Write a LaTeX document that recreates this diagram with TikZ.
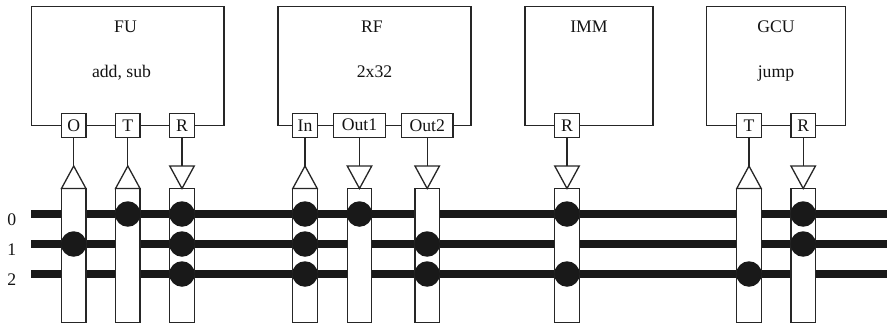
\documentclass[tikz,border=0pt]{standalone}
\usepackage{fontspec}
\setmainfont{Liberation Serif}
\newcommand{\busY}[1]{\ifcase#1 214\or 244\or 274\fi}
% #1 name, #2 x, #3 width, #4 label, #5 up/down, #6 list of bus indices
\newcommand{\portcol}[6]{%
  \node[portbox,minimum width=#3pt] (p#1) at (#2,125.5) {#4};
  \node[colbox] (c#1) at (#2,255.5) {};
  \coordinate (ttop#1) at (#2,166);
  \ifx#5u
    \draw[tri] (ttop#1) -- (#2+12.25,188.5) -- (#2-12.25,188.5) -- cycle;
  \else
    \draw[tri] (#2-12.25,166) -- (#2+12.25,166) -- (#2,188.5) -- cycle;
  \fi
  \draw[wire] (p#1.south) -- (ttop#1);
  \foreach \b in {#6} {
    \node[dot] (d#1\b) at (#2,{\busY{\b}}) {};
  }
}
\tikzset{
  x=1pt,y=-1pt,
  every node/.style={font=\fontsize{17.7}{20}\selectfont,text=black!92},
  block/.style={draw=black!85,line width=1.3pt,fill=white,inner sep=0pt,minimum height=119pt},
  portbox/.style={draw=black!85,line width=1.3pt,fill=white,inner sep=0pt,minimum height=24pt,text height=12pt,text depth=0pt},
  colbox/.style={draw=black!85,line width=1.3pt,fill=white,inner sep=0pt,minimum width=24.5pt,minimum height=134pt},
  tri/.style={draw=black!85,line width=1.3pt,fill=white,line join=miter},
  wire/.style={draw=black!85,line width=1.3pt},
  busline/.style={draw=black!90,line width=7.5pt},
  dot/.style={circle,fill=black!90,inner sep=0pt,minimum size=25.5pt},
  lbl/.style={anchor=base,inner sep=0pt},
}
\begin{document}
\begin{tikzpicture}
\useasboundingbox (0,0) rectangle (887,327);
% blocks
\node[block,minimum width=192.5pt] (fu) at (127.75,66) {};
\node[block,minimum width=193pt] (rf) at (374.5,66) {};
\node[block,minimum width=128pt] (imm) at (589,66) {};
\node[block,minimum width=138.5pt] (gcu) at (776,66) {};
\node[lbl] (tfu) at (125.5,32) {FU};
\node[lbl] (sfu) at (121.5,77) {add, sub};
\node[lbl] (trf) at (372,32) {RF};
\node[lbl] (srf) at (374.5,77) {2x32};
\node[lbl] (timm) at (589,32) {IMM};
\node[lbl] (tgcu) at (776,32) {GCU};
\node[lbl] (sgcu) at (776,77) {jump};
% buses
\coordinate (b0l) at (31,214); \coordinate (b0r) at (887,214);
\coordinate (b1l) at (31,244); \coordinate (b1r) at (887,244);
\coordinate (b2l) at (31,274); \coordinate (b2r) at (887,274);
\draw[busline] (b0l) -- (b0r);
\draw[busline] (b1l) -- (b1r);
\draw[busline] (b2l) -- (b2r);
\node[lbl] (n0) at (11.7,225) {0};
\node[lbl] (n1) at (11.7,255) {1};
\node[lbl] (n2) at (11.7,285) {2};
% ports, sockets, connections
\portcol{a}{73.7}{24.5}{O}{u}{1}
\portcol{b}{127.8}{24.5}{T}{u}{0}
\portcol{c}{182}{24.5}{R}{d}{0,1,2}
\portcol{d}{305}{24.5}{In}{u}{0,1,2}
\portcol{e}{359.5}{51.5}{\raisebox{1.5pt}{Out1}}{d}{0}
\portcol{f}{427.2}{51.5}{Out2}{d}{1,2}
\portcol{g}{567}{24.5}{R}{d}{0,2}
\portcol{h}{749}{24.5}{T}{u}{2}
\portcol{i}{803.2}{24.5}{R}{d}{0,1}
\end{tikzpicture}
\end{document}
